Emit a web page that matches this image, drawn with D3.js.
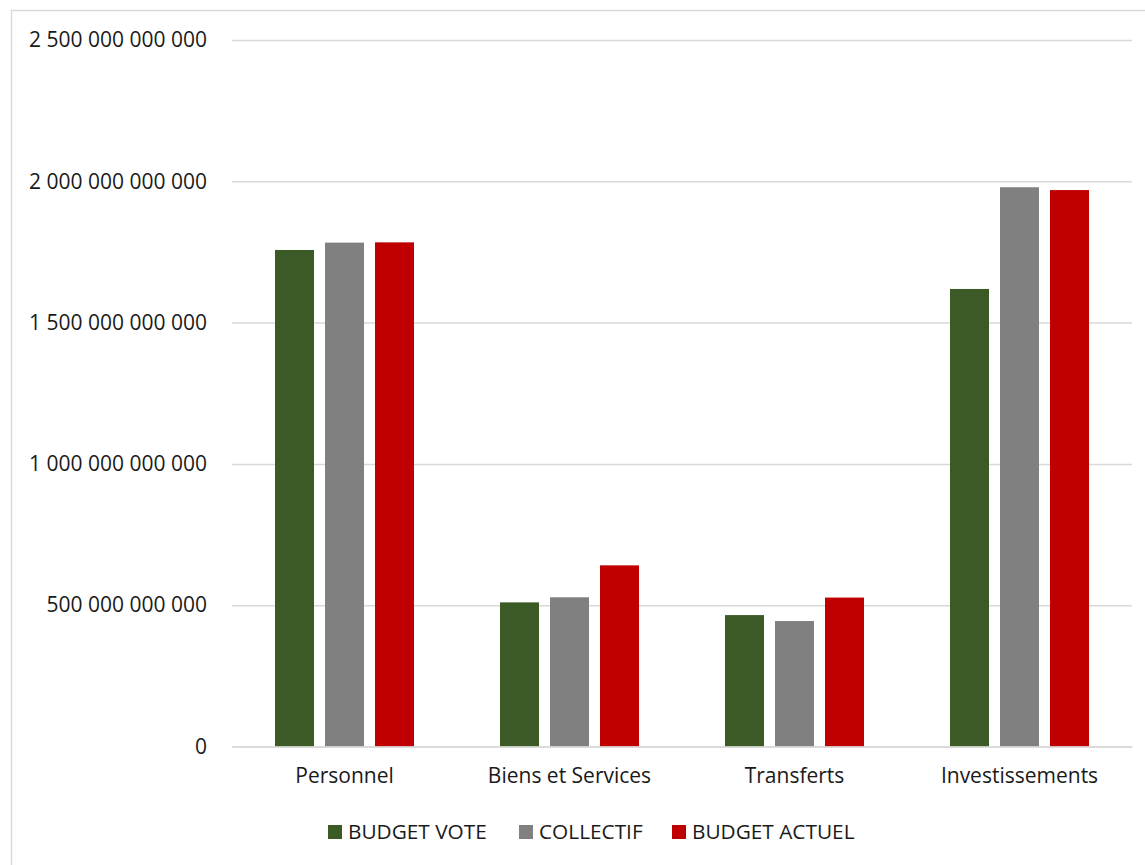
<!DOCTYPE html>
<html>
<head>
<meta charset="utf-8">
<script src="https://cdn.jsdelivr.net/npm/d3@7"></script>
<style>
  html, body { margin: 0; padding: 0; background: #fff; }
  svg { display: block; }
  text { font-family: "Open Sans", sans-serif; fill: #1a1a1a; }
</style>
</head>
<body>
<svg id="chart" width="1145" height="865"></svg>
<script>
const categories = ["Personnel", "Biens et Services", "Transferts", "Investissements"];
const seriesNames = ["BUDGET VOTE", "COLLECTIF", "BUDGET ACTUEL"];
const budgetVote   = [1757e9, 510e9, 465e9, 1619e9];
const collectif    = [1783e9, 528e9, 444e9, 1979e9];
const budgetActuel = [1784e9, 641e9, 527e9, 1969e9];
const seriesColors = ["#3b5a25", "#808080", "#c00000"];
const yTicks = [0, 500e9, 1000e9, 1500e9, 2000e9, 2500e9];

const seriesValues = [budgetVote, collectif, budgetActuel];

const svg = d3.select("#chart");

// outer chart border
svg.append("rect")
  .attr("x", 11.5).attr("y", 10.5)
  .attr("width", 1145).attr("height", 900)
  .attr("fill", "none").attr("stroke", "#d9d9d9").attr("stroke-width", 1.5);

const plot = { left: 232, right: 1132, top: 40, bottom: 746.5 };

const y = d3.scaleLinear().domain([0, 2500e9]).range([plot.bottom, plot.top]);
const x0 = d3.scaleBand().domain(categories).range([plot.left, plot.right]).padding(0);
const x1 = d3.scaleBand().domain(seriesNames).range([0, x0.bandwidth()])
  .paddingInner(0.22).paddingOuter(0.86);

const fmt = v => d3.format(",.0f")(v).replace(/,/g, " ");

// gridlines
const yAxis = d3.axisLeft(y).tickValues(yTicks).tickSize(-(plot.right - plot.left)).tickFormat(fmt).tickPadding(25);
const gy = svg.append("g").attr("transform", `translate(${plot.left},0)`).call(yAxis);
gy.select(".domain").remove();
gy.selectAll(".tick line").attr("stroke", "#d9d9d9").attr("stroke-width", 1.5);
gy.selectAll(".tick text")
  .style("font-family", "'Open Sans', sans-serif")
  .style("font-size", "21px")
  .attr("fill", "#1a1a1a");

// bars
const groups = svg.append("g").selectAll("g")
  .data(categories)
  .join("g")
  .attr("transform", d => `translate(${x0(d)},0)`);

groups.selectAll("rect")
  .data((d, i) => seriesNames.map((s, j) => ({ s, j, v: seriesValues[j][i] })))
  .join("rect")
  .attr("x", d => x1(d.s))
  .attr("width", x1.bandwidth())
  .attr("y", d => y(d.v))
  .attr("height", d => y(0) - y(d.v))
  .attr("fill", d => seriesColors[d.j]);

// x axis
const xAxis = d3.axisBottom(x0).tickSize(0).tickPadding(22);
const gx = svg.append("g").attr("transform", `translate(0,${plot.bottom})`).call(xAxis);
gx.select(".domain").attr("stroke", "#d9d9d9").attr("stroke-width", 1.5);
gx.selectAll(".tick text")
  .style("font-family", "'Open Sans', sans-serif")
  .style("font-size", "21px")
  .attr("fill", "#1a1a1a");

// legend
const legendX = [328, 519, 672];
const legend = svg.append("g");
seriesNames.forEach((s, j) => {
  legend.append("rect")
    .attr("x", legendX[j]).attr("y", 825)
    .attr("width", 14).attr("height", 14)
    .attr("fill", seriesColors[j]);
  legend.append("text")
    .attr("x", legendX[j] + 20).attr("y", 839)
    .style("font-size", "20.8px")
    .text(s);
});
</script>
</body>
</html>
